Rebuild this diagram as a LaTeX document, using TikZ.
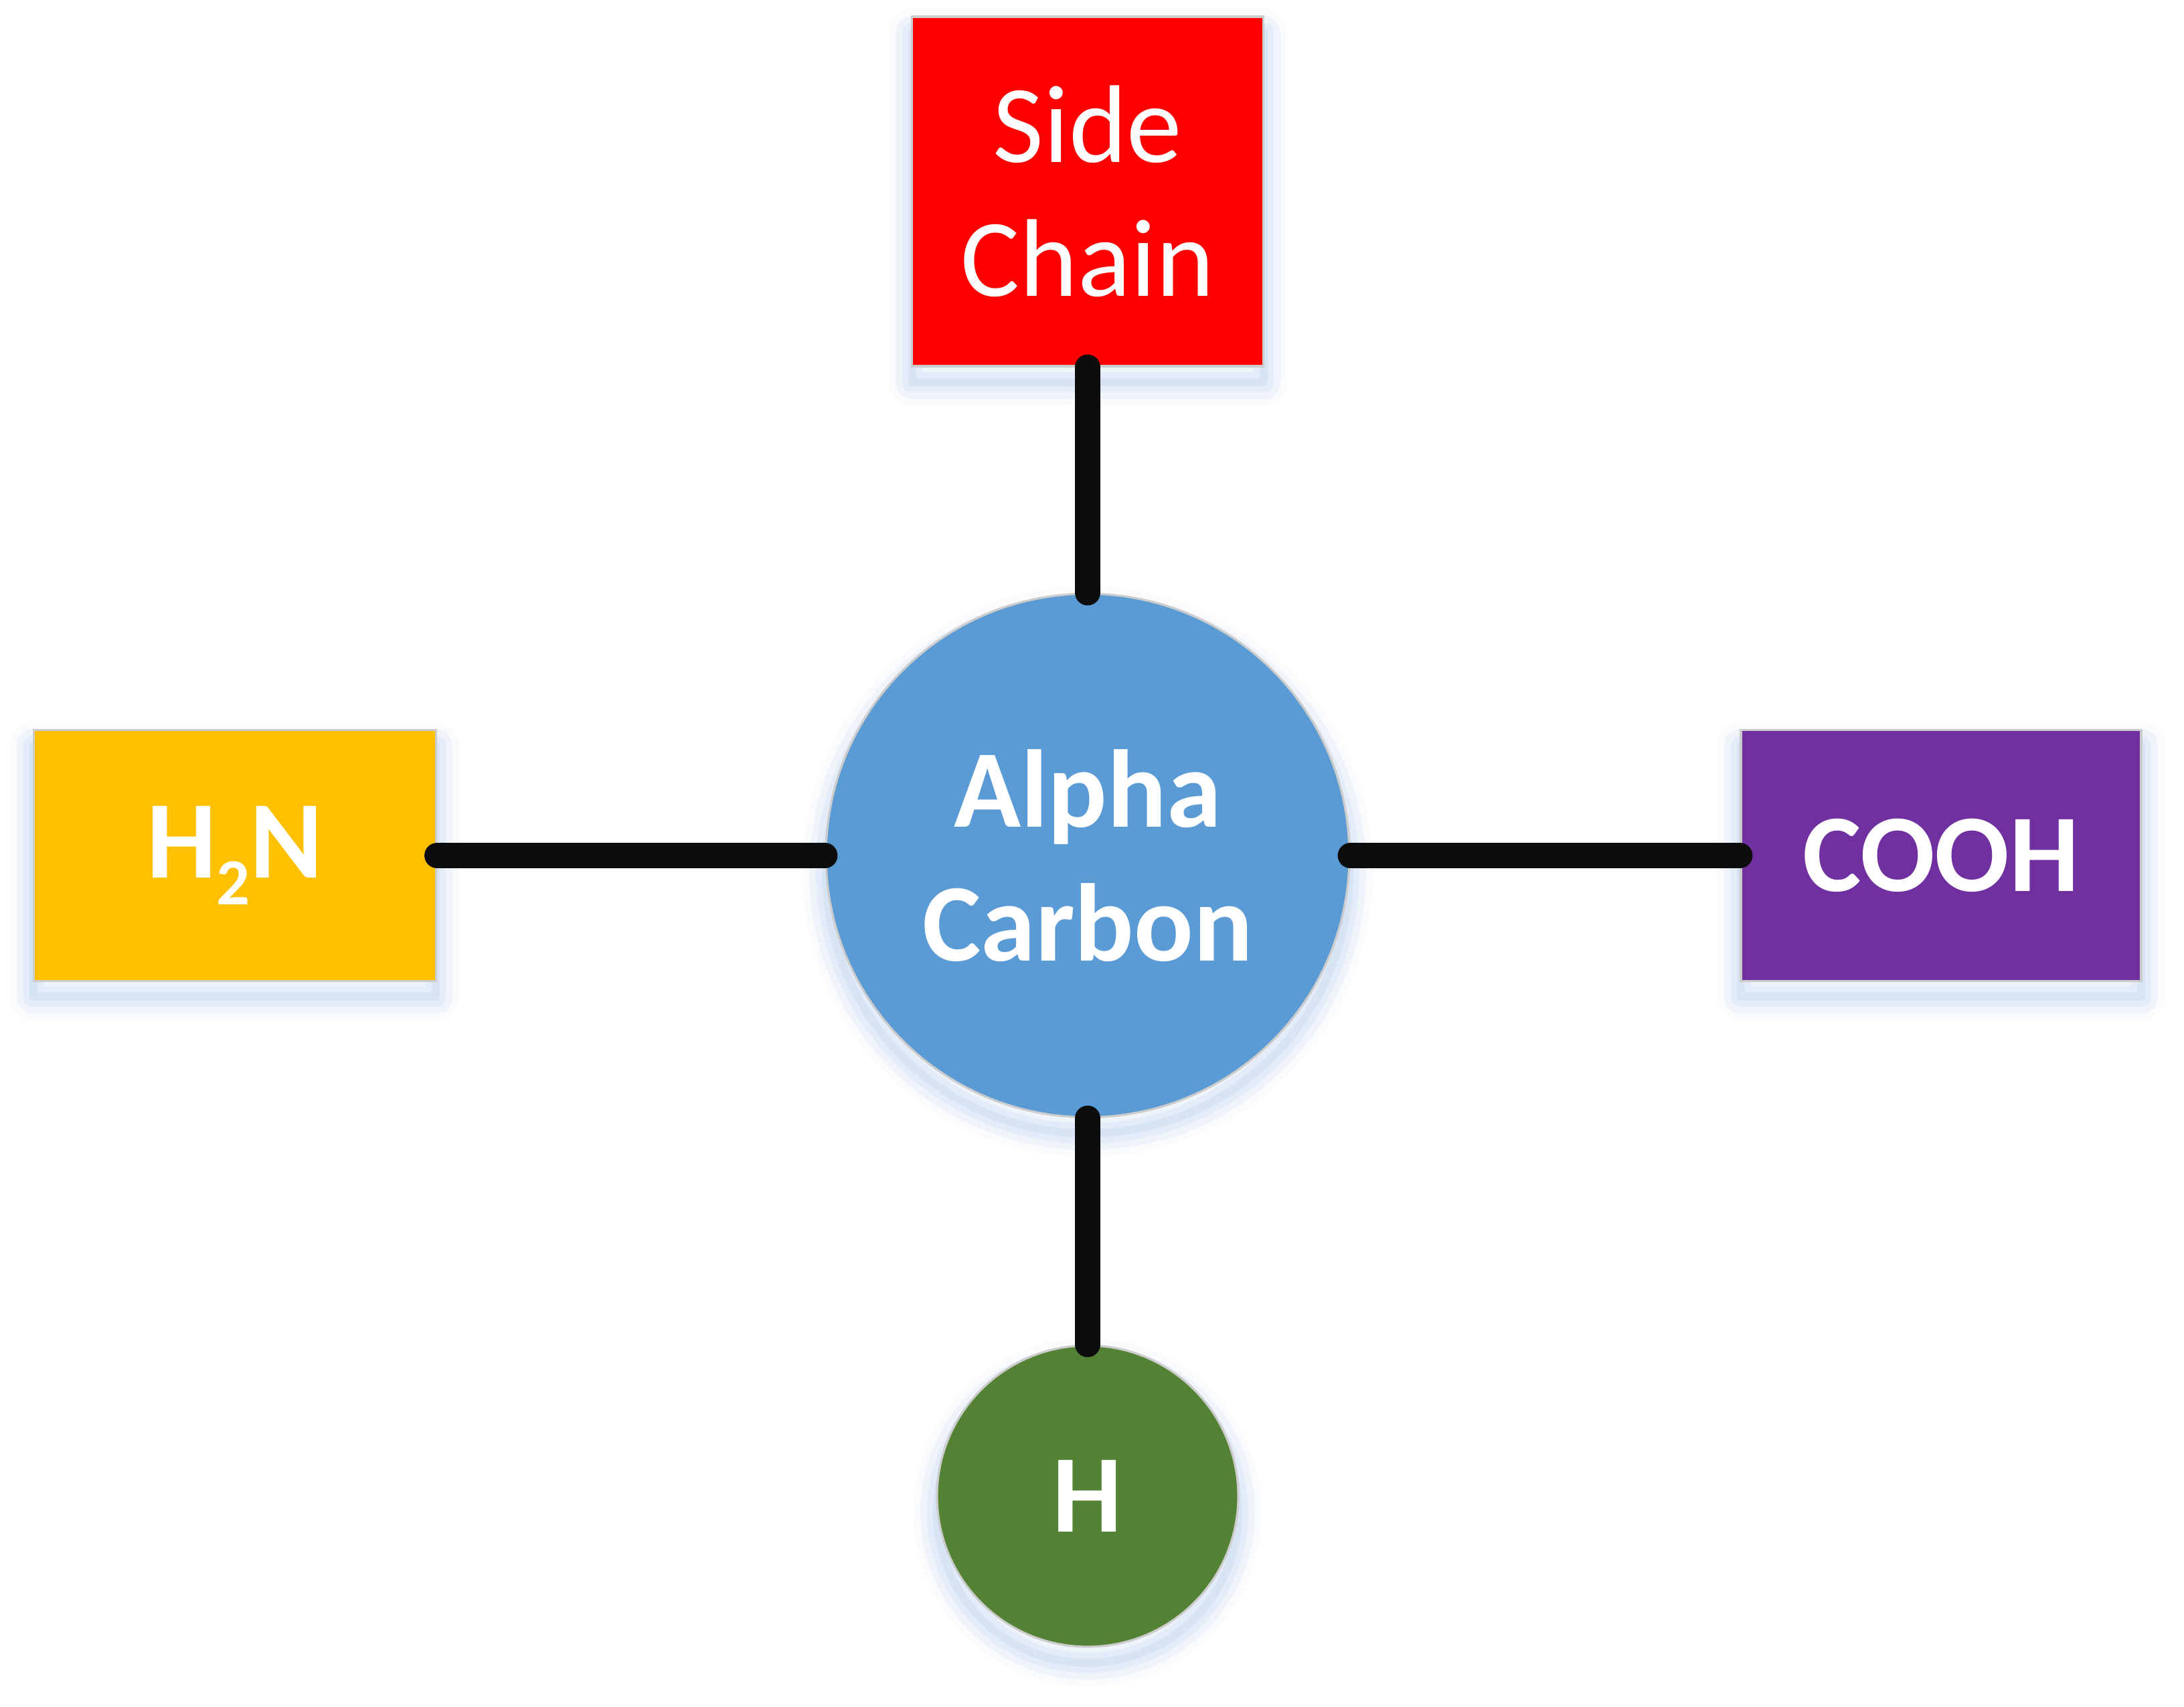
\documentclass[tikz,border=0pt]{standalone}
\usepackage{fontspec}
\setmainfont{Carlito}
\usetikzlibrary{shapes}
\definecolor{sidered}{HTML}{FF0000}
\definecolor{aminoyellow}{HTML}{FFC000}
\definecolor{acidpurple}{HTML}{7030A0}
\definecolor{alphablue}{HTML}{5B9BD5}
\definecolor{hydgreen}{HTML}{548235}
\definecolor{bondblack}{HTML}{0D0D0D}
\definecolor{glowblue}{HTML}{C9DBF1}
\tikzset{glowring/.style 2 args={preaction={draw=glowblue!#2!white,line join=round,
    line width=#1,transform canvas={yshift=-0.24cm}}}}
\tikzstyle{every picture}+=[
  gnode/.style={draw=gray!40,line width=0.9pt,text=white,align=center,
    font=\fontsize{47}{57}\selectfont\bfseries,
    glowring={0.7cm}{12},glowring={0.5cm}{30},glowring={0.3cm}{52},glowring={0.12cm}{75}},
  bnode/.style={gnode,shape=rectangle},
  cnode/.style={gnode,shape=circle,inner sep=0pt},
  bond/.style={draw=bondblack,line width=0.38cm,line cap=round}
]
\newcommand*{\subtwo}{\raisebox{-0.24em}{\fontsize{28}{28}\selectfont 2}}

\begin{document}
\begin{tikzpicture}
      \useasboundingbox (-16.25,-12.72) rectangle (16.38,12.78);
      \node[style=cnode,fill=alphablue,minimum size=7.82cm] (alpha) at (0, 0) {Alpha\\Carbon};
      \node[style=bnode,fill=sidered,minimum width=5.25cm,minimum height=5.22cm,
        font=\fontsize{47}{57}\selectfont] (side) at (0, 9.92) {Side\\Chain};
      \node[style=bnode,fill=aminoyellow,minimum width=6.01cm,minimum height=3.75cm] (amino) at (-12.74, 0) {H\subtwo N};
      \node[style=bnode,fill=acidpurple,minimum width=5.98cm,minimum height=3.75cm] (acid) at (12.75, 0) {COOH};
      \node[style=cnode,fill=hydgreen,minimum size=4.5cm] (hyd) at (0, -9.57) {H};
      %
      \path [style=bond] (side.south) -- (alpha.north);
      \path [style=bond] (amino.east) -- (alpha.west);
      \path [style=bond] (alpha.east) -- (acid.west);
      \path [style=bond] (alpha.south) -- (hyd.north);
      %
    \end{tikzpicture}
\end{document}
